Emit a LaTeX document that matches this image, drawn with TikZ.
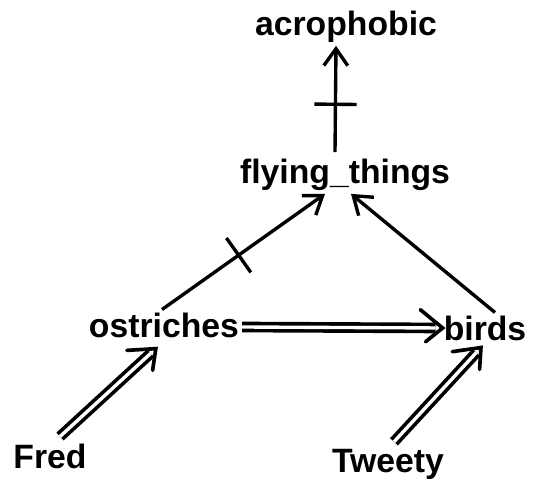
\documentclass[tikz,border=0pt]{standalone}
\usepackage{fontspec}
\setmainfont{Liberation Sans}
\usetikzlibrary{arrows.meta,positioning,decorations.markings}

\begin{document}
\begin{tikzpicture}[>=stealth,
  every node/.style={font=\fontsize{24}{28}\bfseries\selectfont, inner sep=2pt},
  isa/.style={line width=2.4pt, -{Straight Barb[length=12pt,width=17pt]}},
  inst/.style={draw=black, double=white, line width=2.6pt, double distance=2.4pt, shorten >=5pt,
    postaction={decorate}, decoration={markings, mark=at position 1 with
      {\draw[line width=2.6pt, line cap=round, line join=miter] (-16pt,13pt) -- (0,0) -- (-16pt,-13pt);}}},
  tickmark/.style={sloped, draw, line width=2.4pt, inner sep=0pt, minimum width=0pt, minimum height=30pt}]
 			\useasboundingbox (0,0) rectangle (13.4,12.175);
 			\path 
 			(8.65,11.5) node (acro) {acrophobic}
 			(8.625,7.8) node (fly) {flying\_things}
 			(4.1,4.05) node (ostr) {ostriches}
 			(12.125,3.975) node (birds) {birds}
 			(1.25,0.775) node (fred) {Fred}
 			(9.7,0.575) node (tweety) {Tweety}
 			;
 			
 			\draw[isa] ([xshift=-0.25cm,yshift=0.1cm]fly.north) to node[tickmark,pos=0.45] {} ([xshift=-0.25cm]acro.south);
 			\draw[isa] ([xshift=-0.05cm]ostr.north) to node[tickmark,pos=0.47] {} ([xshift=-0.5cm]fly.south);
 			\draw[isa] ([xshift=0.25cm]birds.north) to ([xshift=0.15cm]fly.south);
 			
 			\path[inst] ([yshift=-0.05cm]ostr.east) to ([xshift=0.05cm,yshift=0.0cm]birds.west);
 			\path[inst] ([xshift=0.25cm,yshift=0.1cm]fred.north) to ([xshift=-0.2cm,yshift=-0.2cm]ostr.south);
 			\path[inst] ([xshift=0.15cm,yshift=0.1cm]tweety.north) to ([xshift=-0.1cm,yshift=-0.1cm]birds.south);
 		\end{tikzpicture}
\end{document}
